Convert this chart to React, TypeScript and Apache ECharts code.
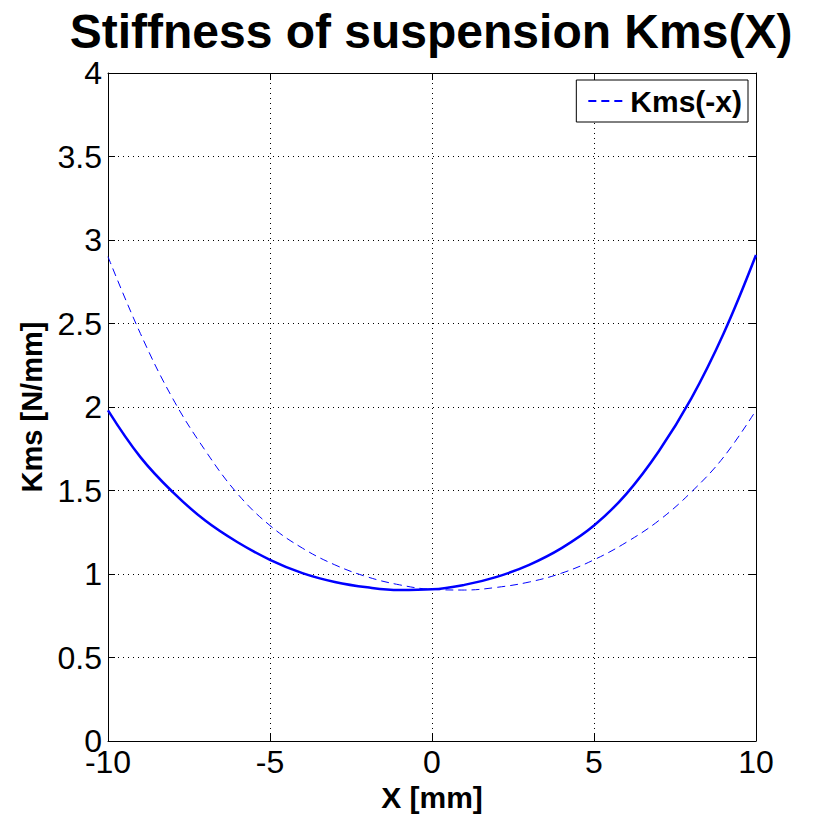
import React, { useEffect, useRef } from "react";
import * as echarts from "echarts";

const xValues = [-10, -9, -8, -7, -6, -5, -4, -3, -2, -1, 0, 1, 2, 3, 4, 5, 6, 7, 8, 9, 10];
const kmsValues = [1.98, 1.70, 1.49, 1.32, 1.19, 1.085, 1.005, 0.952, 0.92, 0.904, 0.908, 0.935, 0.983, 1.055, 1.155, 1.29, 1.48, 1.735, 2.05, 2.44, 2.91];
const kmsMirrorValues = [2.9, 2.44, 2.05, 1.74, 1.48, 1.29, 1.155, 1.055, 0.983, 0.935, 0.908, 0.904, 0.92, 0.952, 1.005, 1.085, 1.19, 1.32, 1.49, 1.70, 1.98];
const titleText = "Stiffness of suspension Kms(X)";
const xName = "X [mm]";
const yName = "Kms [N/mm]";
const legendName = "Kms(-x)";

const FONT = "Liberation Sans, Arial, Helvetica, sans-serif";

export default function App() {
  const ref = useRef<HTMLDivElement>(null);
  useEffect(() => {
    if (!ref.current) return;
    const chart = echarts.init(ref.current, undefined, { renderer: "svg" });
    const solid = xValues.map((x, i) => [x, kmsValues[i]]);
    const dashed = xValues.map((x, i) => [x, kmsMirrorValues[i]]);
    const axisCommon = {
      type: "value" as const,
      axisLine: { show: true, onZero: false, lineStyle: { color: "#000", width: 1 } },
      axisTick: { show: true, inside: true, length: 7, lineStyle: { color: "#000" } },
    };
    chart.setOption({
      animation: false,
      backgroundColor: "#fff",
      title: {
        text: titleText,
        left: 426,
        textAlign: "center",
        top: 2,
        textStyle: { fontFamily: FONT, fontSize: 48, fontWeight: "bold", color: "#000" },
      },
      legend: {
        data: [legendName],
        right: 86,
        top: 80,
        orient: "vertical",
        backgroundColor: "#fff",
        borderColor: "#000",
        borderWidth: 1,
        borderRadius: 0,
        padding: [6, 6, 6, 11],
        itemWidth: 37,
        itemHeight: 10,
        itemGap: 4,
        itemStyle: { opacity: 0 },
        textStyle: { fontFamily: FONT, fontSize: 30, fontWeight: "bold", color: "#000" },
      },
      grid: { left: 108, top: 73, width: 648, height: 668, containLabel: false },
      xAxis: [
        {
          ...axisCommon,
          position: "bottom",
          min: -10,
          max: 10,
          interval: 5,
          name: xName,
          nameLocation: "middle",
          nameGap: 38,
          nameTextStyle: { fontFamily: FONT, fontSize: 30, fontWeight: "bold", color: "#000" },
          axisLabel: { show: true, margin: 5, fontFamily: FONT, fontSize: 32, color: "#000" },
          splitLine: { show: true, lineStyle: { color: "#000", type: [1, 4], width: 1 } },
        },
        {
          ...axisCommon,
          position: "top",
          min: -10,
          max: 10,
          interval: 5,
          axisLabel: { show: false },
          splitLine: { show: false },
        },
      ],
      yAxis: [
        {
          ...axisCommon,
          position: "left",
          min: 0,
          max: 4,
          interval: 0.5,
          name: yName,
          nameLocation: "middle",
          nameGap: 62,
          nameTextStyle: { fontFamily: FONT, fontSize: 29, fontWeight: "bold", color: "#000" },
          axisLabel: { show: true, margin: 6, fontFamily: FONT, fontSize: 32, color: "#000" },
          splitLine: { show: true, lineStyle: { color: "#000", type: [1, 4], width: 1 } },
        },
        {
          ...axisCommon,
          position: "right",
          min: 0,
          max: 4,
          interval: 0.5,
          axisLabel: { show: false },
          splitLine: { show: false },
        },
      ],
      series: [
        {
          name: "Kms(x)",
          type: "line",
          data: solid,
          smooth: 0.4,
          symbol: "none",
          lineStyle: { color: "#0000ff", width: 2.5 },
          itemStyle: { color: "#0000ff" },
          z: 3,
        },
        {
          name: legendName,
          type: "line",
          data: dashed,
          smooth: 0.4,
          symbol: "none",
          lineStyle: { color: "#0000ff", width: 1, type: [8, 5] },
          itemStyle: { color: "#0000ff" },
          z: 2,
        },
      ],
    });
    return () => chart.dispose();
  }, []);
  return (
    <div
      ref={ref}
      style={{ position: "fixed", left: 0, top: 0, width: 834, height: 833, background: "#fff" }}
    />
  );
}
